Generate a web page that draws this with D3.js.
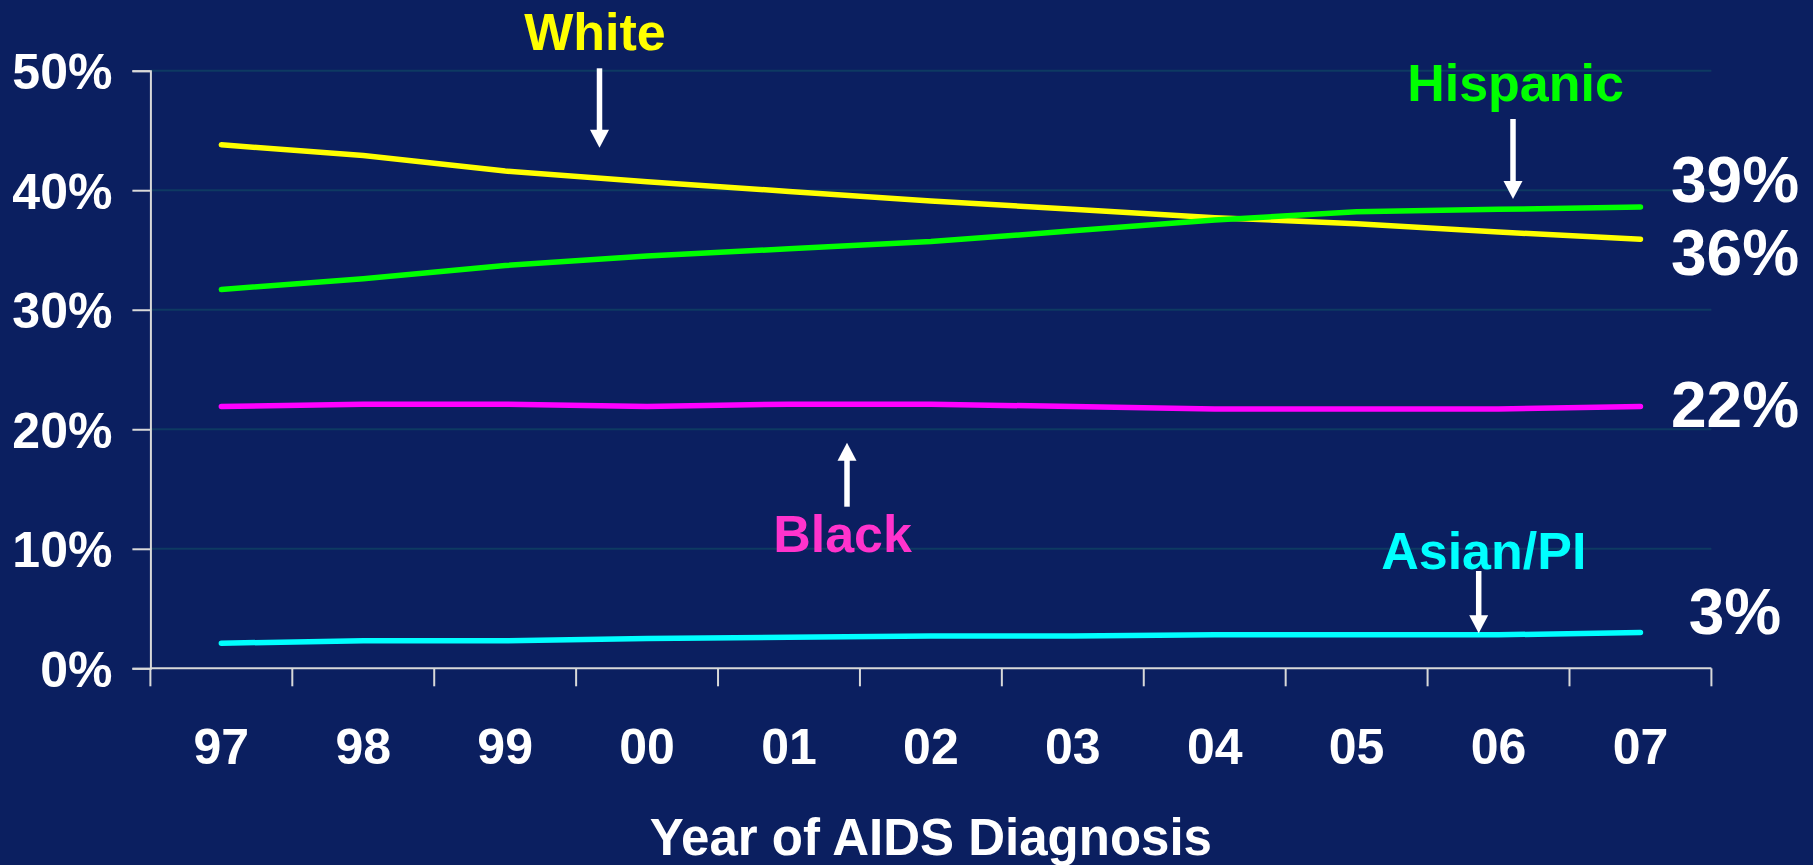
<!DOCTYPE html>
<html>
<head>
<meta charset="utf-8">
<script src="https://cdn.jsdelivr.net/npm/d3@7"></script>
<style>
html,body{margin:0;padding:0;background:#0B1F60;}
svg{display:block;}
text{font-family:"Liberation Sans",Arial,sans-serif;font-weight:bold;}
</style>
</head>
<body>
<svg id="chart" width="1813" height="865"></svg>
<script>
const years = ["97","98","99","00","01","02","03","04","05","06","07"];
const white    = [43.8,42.9,41.6,40.7,39.9,39.1,38.4,37.7,37.2,36.5,35.9];
const hispanic = [31.7,32.6,33.7,34.5,35.1,35.7,36.6,37.5,38.2,38.4,38.6];
const black    = [21.9,22.1,22.1,21.9,22.1,22.1,21.9,21.7,21.7,21.7,21.9];
const asian    = [2.1,2.3,2.3,2.5,2.6,2.7,2.7,2.8,2.8,2.8,3.0];
const yTicks = [0,10,20,30,40,50];
const endLabels = ["39%","36%","22%","3%"];
const xTitle = "Year of AIDS Diagnosis";

const series = [
  {name:"White", values:white, color:"#FFFF00"},
  {name:"Hispanic", values:hispanic, color:"#00FF00"},
  {name:"Black", values:black, color:"#FF00FF"},
  {name:"Asian/PI", values:asian, color:"#00FFFF"}
];

const svg = d3.select("#chart");
const pLeft = 150.4, pRight = 1711.4, pTop = 70.7, pBottom = 668.3;
const x = d3.scaleBand().domain(years).range([pLeft, pRight]).padding(0);
const y = d3.scaleLinear().domain([0, 50]).range([pBottom, pTop]);
const axisColor = "#D9D9D9";

// gridlines
svg.append("g").selectAll("line").data(yTicks.filter(d => d > 0)).join("line")
  .attr("x1", pLeft).attr("x2", pRight)
  .attr("y1", d => y(d)).attr("y2", d => y(d))
  .attr("stroke", "#0E3A62").attr("stroke-width", 2);

// y axis
const yAxis = d3.axisLeft(y).tickValues(yTicks).tickSize(18).tickPadding(20)
  .tickFormat(d => d + "%");
const gy = svg.append("g").attr("transform", `translate(${pLeft},0)`).call(yAxis);
gy.select(".domain").attr("stroke", axisColor).attr("stroke-width", 2);
gy.selectAll(".tick line").attr("stroke", axisColor).attr("stroke-width", 2);
gy.selectAll(".tick text").attr("fill", "#FFFFFF").attr("font-size", 50)
  .attr("font-family", "Liberation Sans, Arial, sans-serif").attr("font-weight", "bold")
  .attr("dy", "0.36em");

// x axis line
svg.append("line").attr("x1", pLeft).attr("x2", pRight).attr("y1", pBottom).attr("y2", pBottom)
  .attr("stroke", axisColor).attr("stroke-width", 2);
// x boundary ticks
const bounds = years.map(d => x(d)).concat([x.range()[1]]);
svg.append("g").selectAll("line").data(bounds).join("line")
  .attr("x1", d => d).attr("x2", d => d).attr("y1", pBottom).attr("y2", pBottom + 18)
  .attr("stroke", axisColor).attr("stroke-width", 2);
// x labels
svg.append("g").selectAll("text").data(years).join("text")
  .attr("x", d => x(d) + x.bandwidth() / 2).attr("y", 764)
  .attr("text-anchor", "middle").attr("fill", "#FFFFFF").attr("font-size", 50)
  .text(d => d);
// x title
svg.append("text").attr("x", (pLeft + pRight) / 2).attr("y", 855)
  .attr("text-anchor", "middle").attr("fill", "#FFFFFF").attr("font-size", 51)
  .text(xTitle);

// lines
const line = d3.line().x((d, i) => x(years[i]) + x.bandwidth() / 2).y(d => y(d));
svg.append("g").selectAll("path").data(series).join("path")
  .attr("d", d => line(d.values)).attr("fill", "none")
  .attr("stroke", d => d.color).attr("stroke-width", 5.5)
  .attr("stroke-linecap", "round").attr("stroke-linejoin", "round");

// end labels
const endY = [201.7, 275, 426.7, 634.3];
svg.append("g").selectAll("text").data(endLabels).join("text")
  .attr("x", 1735).attr("y", (d, i) => endY[i])
  .attr("text-anchor", "middle").attr("fill", "#FFFFFF").attr("font-size", 64)
  .text(d => d);

// annotations
function arrow(xp, y1, y2) {
  const dir = y2 > y1 ? 1 : -1;
  const headLen = 18, headW = 9.5;
  svg.append("line").attr("x1", xp).attr("x2", xp).attr("y1", y1).attr("y2", y2 - dir * (headLen - 1))
    .attr("stroke", "#FFFFFF").attr("stroke-width", 5.5);
  svg.append("path")
    .attr("d", `M${xp - headW},${y2 - dir * headLen} L${xp + headW},${y2 - dir * headLen} L${xp},${y2} Z`)
    .attr("fill", "#FFFFFF");
}
const notes = [
  {text:"White", color:"#FFFF00", tx:595, ty:50, ax:599.5, a1:68.3, a2:147.7},
  {text:"Hispanic", color:"#00FF00", tx:1515.5, ty:100.7, ax:1513, a1:119, a2:199},
  {text:"Black", color:"#FF33CC", tx:842.6, ty:551.7, ax:847, a1:506.7, a2:442.7},
  {text:"Asian/PI", color:"#00FFFF", tx:1483.8, ty:569.3, ax:1478.7, a1:571, a2:633.3}
];
notes.forEach(n => {
  svg.append("text").attr("x", n.tx).attr("y", n.ty).attr("text-anchor", "middle")
    .attr("fill", n.color).attr("font-size", 52).text(n.text);
  arrow(n.ax, n.a1, n.a2);
});
</script>
</body>
</html>
